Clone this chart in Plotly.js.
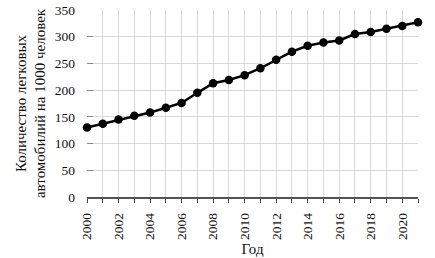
<!DOCTYPE html>
<html>
<head>
<meta charset="utf-8">
<script src="https://cdn.plot.ly/plotly-3.0.1.min.js"></script>
<style>html,body{margin:0;padding:0;background:#fff;}#chart{width:435px;height:258px;}</style>
</head>
<body>
<div id="chart"></div>
<script>
const years = [2000,2001,2002,2003,2004,2005,2006,2007,2008,2009,2010,2011,2012,2013,2014,2015,2016,2017,2018,2019,2020,2021];
const carsPer1000 = [130,137,145,152,158,167,176,195,213,219,228,241,257,272,283,289,293,305,309,315,320,327];
const xTitle = "Год";
const yTitle = "Количество легковых<br>автомобилий на 1000 человек";

const fam = "Liberation Serif, Times New Roman, serif";
const tickFont = {family: fam, size: 13.5, color: "#111"};
const titleFont = {family: fam, size: 15, color: "#111"};
const grid = "#d9d9d9";

Plotly.newPlot("chart", [{
  x: years, y: carsPer1000, type: "scatter", mode: "lines+markers",
  line: {color: "#000", width: 2.5},
  marker: {color: "#000", size: 8.5},
  cliponaxis: false, hoverinfo: "skip"
}], {
  width: 435, height: 258,
  margin: {l: 87, r: 17, t: 10, b: 61},
  paper_bgcolor: "#fff", plot_bgcolor: "#fff",
  font: tickFont, showlegend: false,
  xaxis: {
    range: [2000, 2021], tickmode: "linear", tick0: 2000, dtick: 2,
    tickangle: -90, ticks: "outside", ticklen: 4, tickcolor: "#444",
    ticklabelstandoff: 5,
    showgrid: true, gridcolor: grid, gridwidth: 1,
    minor: {dtick: 1, tick0: 2000, ticks: "outside", ticklen: 4, tickcolor: "#444", showgrid: true, gridcolor: grid, gridwidth: 1},
    showline: true, linecolor: "#555", linewidth: 1.5,
    zeroline: false, tickfont: tickFont,
    title: {text: xTitle, font: titleFont, standoff: 4}
  },
  yaxis: {
    range: [0, 350], tickmode: "linear", tick0: 0, dtick: 50,
    ticks: "inside", ticklen: 6, tickcolor: "#888",
    ticklabelstandoff: 11,
    showgrid: true, gridcolor: grid, gridwidth: 1,
    showline: false, zeroline: false, tickfont: tickFont,
    title: {text: yTitle, font: titleFont, standoff: 5}
  }
}, {staticPlot: true, displayModeBar: false});
</script>
</body>
</html>
